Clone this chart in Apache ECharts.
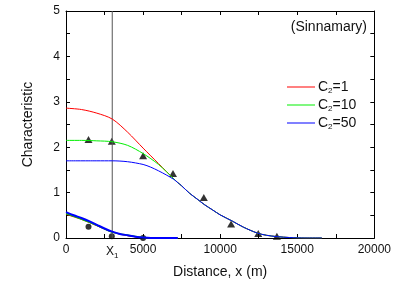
<!DOCTYPE html>
<html>
<head>
<meta charset="utf-8">
<script src="https://cdn.jsdelivr.net/npm/echarts@6/dist/echarts.min.js"></script>
<style>
  html, body { margin: 0; padding: 0; background: #fff; }
  #chart { width: 394px; height: 286px; }
</style>
</head>
<body>
<div id="chart"></div>
<script>
// values (x in m)
var x1 = 3000;
var xLabelValues = [0, 3000, 5000, 10000, 15000, 20000];

// common tail where the three upper curves merge
var tail = [[7500, 1.15], [8000, 0.99], [8500, 0.86], [9000, 0.73], [9500, 0.62], [10000, 0.51],
    [10800, 0.37], [11500, 0.24], [12400, 0.11], [13000, 0.06], [13700, 0.03], [14500, 0.01],
    [15500, 0.0], [16600, 0.0]];

var redUpper = [[0, 2.86], [1000, 2.83], [2000, 2.75], [3000, 2.62], [4000, 2.33], [5000, 1.98],
    [6000, 1.64], [7000, 1.30], [7250, 1.22]].concat(tail);
var greenUpper = [[0, 2.15], [1000, 2.15], [2000, 2.14], [3000, 2.12], [4000, 2.04], [5000, 1.86],
    [6000, 1.62], [7000, 1.30], [7250, 1.22]].concat(tail);
var blueUpper = [[0, 1.70], [2000, 1.70], [3000, 1.70], [4000, 1.68], [5000, 1.62], [5500, 1.56],
    [6000, 1.48], [6500, 1.39], [7000, 1.29], [7250, 1.22]].concat(tail);

var redLower = [[0, 0.52], [1000, 0.41], [2000, 0.27], [3000, 0.13], [4000, 0.05], [5000, 0.01],
    [5500, 0.0], [7250, 0.0]];
var greenLower = [[0, 0.54], [1000, 0.42], [2000, 0.28], [3000, 0.13], [4000, 0.06], [5000, 0.01],
    [5500, 0.0], [7250, 0.0]];
var blueLower = [[0, 0.57], [500, 0.50], [1000, 0.44], [1500, 0.37], [2000, 0.29], [2500, 0.21],
    [3000, 0.14], [3500, 0.09], [4000, 0.06], [4500, 0.03], [5000, 0.01], [5500, 0.0], [7250, 0.0]];

// measured points
var triangles = [[1460, 2.17], [2970, 2.13], [5000, 1.81], [6940, 1.42], [8940, 0.89],
    [10710, 0.31], [12470, 0.10], [13680, 0.04]];
var circles = [[1460, 0.25], [2970, 0.04], [5000, 0.0]];

var legendNames = ['C2=1', 'C2=10', 'C2=50'];

var font = 'Liberation Sans, Arial, sans-serif';
var txt = '#111';

function lineSeries(name, data, color, width) {
    return {
        name: name, type: 'line', data: data, smooth: 0.3, showSymbol: false,
        symbol: 'none', silent: true,
        lineStyle: { color: color, width: width || 1 },
        itemStyle: { color: color }
    };
}

var chart = echarts.init(document.getElementById('chart'), null, { renderer: 'canvas' });
chart.setOption({
    animation: false,
    textStyle: { fontFamily: font },
    grid: { left: 66, right: 19, top: 11, bottom: 48 },
    legend: {
        data: legendNames,
        orient: 'vertical',
        left: 282, top: 75,
        itemWidth: 28, itemHeight: 14, itemGap: 3,
        icon: 'path://M0,0 L28,0 L28,1 L0,1 Z',
        formatter: function (n) {
            var p = n.split('=');
            return '{c|C}{s|2}{c|=' + p[1] + '}';
        },
        textStyle: {
            padding: [0, 0, 0, -2],
            rich: {
                c: { fontSize: 14, color: txt, fontFamily: font, lineHeight: 16 },
                s: { fontSize: 8, color: txt, fontFamily: font, lineHeight: 16, verticalAlign: 'bottom', padding: [6, 0, 0, 0] }
            }
        }
    },
    graphic: [{
        type: 'text', right: 27, top: 20,
        style: { text: '(Sinnamary)', font: '14px ' + font, fill: txt }
    }],
    xAxis: [{
        type: 'value', min: 0, max: 20000, interval: 2500,
        name: 'Distance, x (m)', nameLocation: 'middle', nameGap: 25,
        nameTextStyle: { fontSize: 14, color: txt },
        axisLine: { onZero: false, lineStyle: { color: '#000', width: 1 } },
        axisTick: { inside: true, length: 4, lineStyle: { color: '#000' } },
        splitLine: { show: false },
        axisLabel: {
            customValues: xLabelValues,
            fontSize: 12, color: txt, margin: 6,
            formatter: function (v) { return v === x1 ? '{x|X}{s|1}' : String(v); },
            rich: {
                x: { fontSize: 12, color: txt, fontFamily: font },
                s: { fontSize: 8, color: txt, fontFamily: font, padding: [8, 0, 0, 0] }
            }
        }
    }, {
        type: 'value', min: 0, max: 20000, interval: 2500, position: 'top',
        axisLine: { show: true, onZero: false, lineStyle: { color: '#000', width: 1 } },
        axisTick: { show: true, inside: true, length: 4, lineStyle: { color: '#000' } },
        axisLabel: { show: false }, splitLine: { show: false }
    }],
    yAxis: [{
        type: 'value', min: 0, max: 5, interval: 0.5,
        name: 'Characteristic', nameLocation: 'middle', nameGap: 31,
        nameTextStyle: { fontSize: 14, color: txt },
        axisLine: { show: true, onZero: false, lineStyle: { color: '#000', width: 1 } },
        axisTick: { show: true, inside: true, length: 4, lineStyle: { color: '#000' } },
        splitLine: { show: false },
        axisLabel: {
            fontSize: 12, color: txt, margin: 6,
            formatter: function (v) { return v % 1 === 0 ? String(v) : ''; }
        }
    }, {
        type: 'value', min: 0, max: 5, interval: 0.5, position: 'right',
        axisLine: { show: true, onZero: false, lineStyle: { color: '#000', width: 1 } },
        axisTick: { show: true, inside: true, length: 4, lineStyle: { color: '#000' } },
        axisLabel: { show: false }, splitLine: { show: false }
    }],
    series: [
        {
            type: 'line', data: [[x1, 0], [x1, 5]], showSymbol: false, symbol: 'none', silent: true,
            lineStyle: { color: '#555', width: 1 }
        },
        lineSeries('C2=1', redUpper, '#ff0000'),
        lineSeries('C2=10', greenUpper, '#00ee00'),
        lineSeries('C2=50', blueUpper, '#0000ff'),
        lineSeries('red-low', redLower, '#ff0000', 1),
        lineSeries('green-low', greenLower, '#00cc00', 1.5),
        lineSeries('blue-low', blueLower, '#0000ff', 2),
        {
            type: 'scatter', data: triangles, symbol: 'triangle', symbolSize: [8, 7], silent: true,
            itemStyle: { color: '#000' }
        },
        {
            type: 'scatter', data: circles, symbol: 'circle', symbolSize: 6, silent: true,
            itemStyle: { color: '#000' }
        }
    ]
});
</script>
</body>
</html>
